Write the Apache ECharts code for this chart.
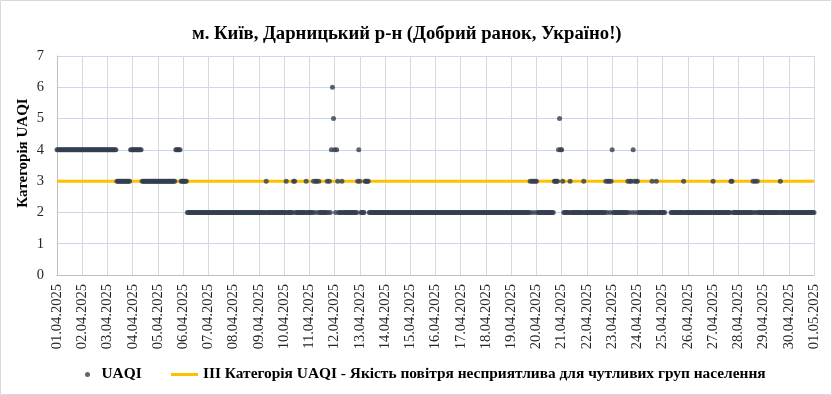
<!DOCTYPE html>
<html>
<head>
<meta charset="utf-8">
<script src="https://cdn.jsdelivr.net/npm/echarts@6/dist/echarts.min.js"></script>
<style>
html,body{margin:0;padding:0;background:#fff;}
#chart{width:832px;height:395px;}
</style>
</head>
<body>
<div id="chart"></div>
<script>
// Tick labels (one per day, 00:00)
const dateLabels = [
  '01.04.2025','02.04.2025','03.04.2025','04.04.2025','05.04.2025','06.04.2025',
  '07.04.2025','08.04.2025','09.04.2025','10.04.2025','11.04.2025','12.04.2025',
  '13.04.2025','14.04.2025','15.04.2025','16.04.2025','17.04.2025','18.04.2025',
  '19.04.2025','20.04.2025','21.04.2025','22.04.2025','23.04.2025','24.04.2025',
  '25.04.2025','26.04.2025','27.04.2025','28.04.2025','29.04.2025','30.04.2025',
  '01.05.2025'
];

// Hourly UAQI category, one string per day (hours 00-23, in groups of 6); '-' = no data
const uaqiByDay = [
  '444444 444444 444444 444444', // 01.04
  '444444 444444 444444 444444', // 02.04
  '444444 444333 333333 333344', // 03.04
  '444444 444333 333333 333333', // 04.04
  '333333 333333 333334 444433', // 05.04
  '333322 222222 222222 222222', // 06.04
  '222222 222222 222222 222222', // 07.04
  '222222 222222 222222 222222', // 08.04
  '222222 232222 222222 222222', // 09.04
  '223222 222332 222222 222322', // 10.04
  '222232 332322 222223 232465', // 11.04
  '424322 232222 222222 222234', // 12.04
  '322223 333222 222222 222222', // 13.04
  '222222 222222 222222 222222', // 14.04
  '222222 222222 222222 222222', // 15.04
  '222222 222222 222222 222222', // 16.04
  '222222 222222 222222 222222', // 17.04
  '222222 222222 222222 222222', // 18.04
  '222222 222222 222222 323323', // 19.04
  '322222 222222 222223 333454', // 20.04
  '432222 223222 222222 222322', // 21.04
  '222222 222222 222222 323323', // 22.04
  '422222 222222 222323 324323', // 23.04
  '322222 222222 223222 322222', // 24.04
  '222--- --2222 222222 223222', // 25.04
  '222222 222222 222222 222222', // 26.04
  '322222 222222 222223 322222', // 27.04
  '222222 222222 223232 322222', // 28.04
  '222222 222222 222232 222222', // 29.04
  '222222 222222 222222 222222'  // 30.04
];
const uaqiLast = '2'; // 01.05 00:00

const thresholdValue = 3;
const seriesNames = ['UAQI', 'ІІІ Категорія UAQI - Якість повітря несприятлива для чутливих груп населення'];
const titleText = 'м. Київ, Дарницький р-н (Добрий ранок, Україно!)';
const yAxisTitle = 'Категорія UAQI';

const hourly = (uaqiByDay.join('') + uaqiLast).replace(/ /g, '').split('');
const scatterData = [];
hourly.forEach((c, i) => { if (c !== '-') scatterData.push([i, Number(c)]); });
const lastHour = hourly.length - 1;

const FONT = "'Liberation Serif', 'Times New Roman', serif";
const legendText = { fontFamily: FONT, fontSize: 15.4, fontWeight: 'bold', color: '#000' };
const chart = echarts.init(document.getElementById('chart'));
chart.setOption({
  animation: false,
  backgroundColor: '#ffffff',
  title: {
    text: titleText,
    left: 187,
    top: 20,
    textStyle: { fontFamily: FONT, fontSize: 18.7, fontWeight: 'bold', color: '#000' }
  },
  grid: { left: 57, right: 18, top: 56, bottom: 120, containLabel: false },
  legend: [
    {
      left: 85,
      top: 367,
      padding: 0,
      itemWidth: 18,
      itemHeight: 5,
      textStyle: legendText,
      data: [{ name: seriesNames[0], icon: 'circle' }]
    },
    {
      left: 171,
      top: 367,
      padding: 0,
      itemWidth: 27,
      itemHeight: 3,
      textStyle: legendText,
      data: [{ name: seriesNames[1], icon: 'path://M0,0L27,0L27,3L0,3Z' }]
    }
  ],
  xAxis: {
    type: 'value',
    min: 0,
    max: lastHour,
    interval: 24,
    axisLine: { show: true, lineStyle: { color: '#bfbfbf', width: 1 } },
    axisTick: { show: false },
    splitLine: { show: true, lineStyle: { color: '#d9d9d9', width: 1 } },
    axisLabel: {
      rotate: 90,
      margin: 9,
      fontFamily: FONT,
      fontSize: 14.5,
      color: '#262626',
      formatter: v => dateLabels[Math.round(v / 24)] || ''
    }
  },
  yAxis: {
    type: 'value',
    min: 0,
    max: 7,
    interval: 1,
    axisLine: { show: true, lineStyle: { color: '#bfbfbf', width: 1 } },
    axisTick: { show: false },
    splitLine: { show: true, lineStyle: { color: '#c9d6ec', width: 1 } },
    axisLabel: { margin: 13, fontFamily: FONT, fontSize: 14.5, color: '#262626' }
  },
  graphic: [
    {
      type: 'rect',
      silent: true,
      shape: { x: 0.5, y: 0.5, width: 831, height: 394 },
      style: { fill: null, stroke: '#d9d9d9', lineWidth: 1 }
    },
    {
      type: 'text',
      x: 23,
      y: 153,
      rotation: Math.PI / 2,
      style: {
        text: yAxisTitle,
        font: "bold 15px 'Liberation Serif'",
        fill: '#000',
        textAlign: 'center',
        textVerticalAlign: 'middle'
      }
    }
  ],
  series: [
    {
      name: seriesNames[0],
      type: 'scatter',
      data: scatterData,
      symbol: 'circle',
      symbolSize: 5,
      itemStyle: { color: '#333f50' },
      z: 3
    },
    {
      name: seriesNames[1],
      type: 'line',
      data: [[0, thresholdValue], [lastHour, thresholdValue]],
      symbol: 'none',
      lineStyle: { color: '#ffc000', width: 3 },
      itemStyle: { color: '#ffc000' },
      z: 2
    }
  ]
});
</script>
</body>
</html>
